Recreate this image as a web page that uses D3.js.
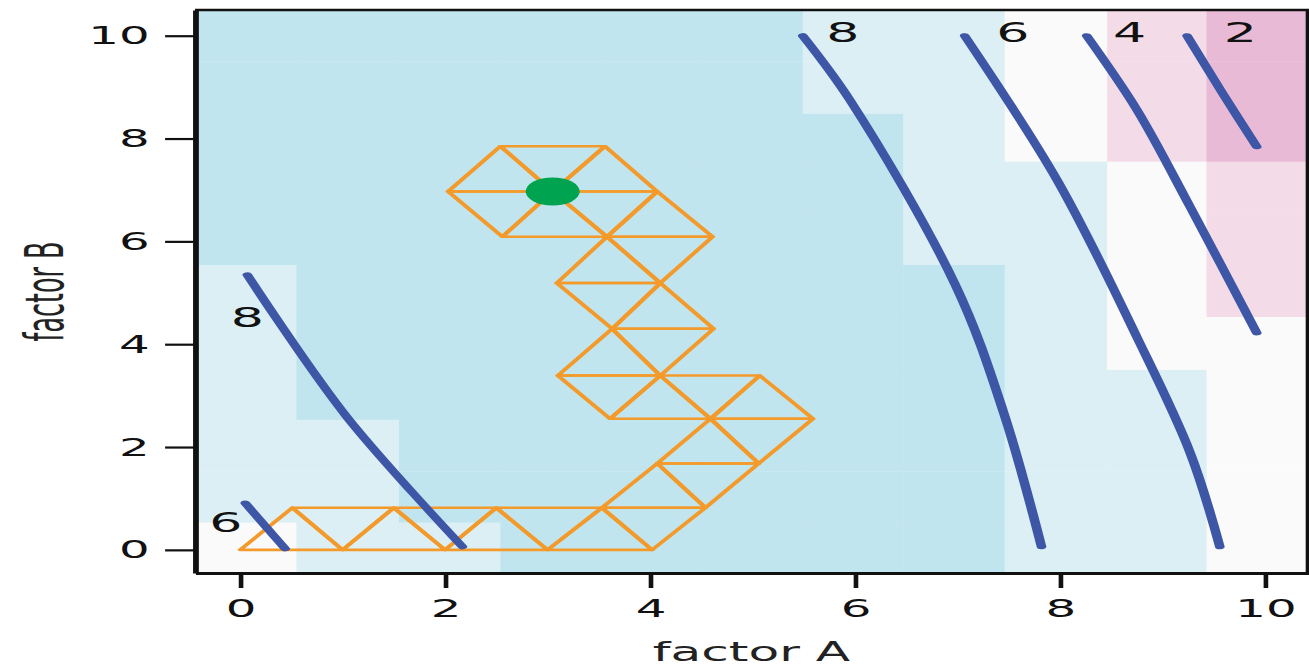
<!DOCTYPE html>
<html>
<head>
<meta charset="utf-8">
<script src="https://cdn.jsdelivr.net/npm/d3@7"></script>
<style>
  html, body { margin: 0; padding: 0; background: #fff; }
  svg { display: block; }
</style>
</head>
<body>
<div id="chart"></div>
<script>
// ---- data ----
var xTicks = [0, 2, 4, 6, 8, 10];
var yTicks = [0, 2, 4, 6, 8, 10];

// response level per cell, rows from factor B = 10 down to 0, cols factor A = 0..10
var cellRows = [
  [9, 9, 9, 9, 9, 9, 7, 7, 5, 3, 1],
  [9, 9, 9, 9, 9, 9, 7, 7, 5, 3, 1],
  [9, 9, 9, 9, 9, 9, 9, 7, 5, 3, 1],
  [9, 9, 9, 9, 9, 9, 9, 7, 7, 5, 3],
  [9, 9, 9, 9, 9, 9, 9, 7, 7, 5, 3],
  [7, 9, 9, 9, 9, 9, 9, 9, 7, 5, 3],
  [7, 9, 9, 9, 9, 9, 9, 9, 7, 5, 5],
  [7, 9, 9, 9, 9, 9, 9, 9, 7, 7, 5],
  [7, 7, 9, 9, 9, 9, 9, 9, 7, 7, 5],
  [7, 7, 9, 9, 9, 9, 9, 9, 7, 7, 5],
  [5, 7, 7, 9, 9, 9, 9, 9, 7, 7, 5]
];
// cell edges as they sit in the picture
var cellEdgesA = [-0.5, 0.55, 1.55, 2.54, 3.52, 4.51, 5.49, 6.47, 7.46, 8.46, 9.43, 10.5];
var cellEdgesB = [-0.5, 0.53, 1.53, 2.53, 3.5, 4.53, 5.54, 6.55, 7.55, 8.48, 9.5, 10.6];
var levelBreaks = [2, 4, 6, 8];
var levelColors = ['#e8bad6', '#f4dbe8', '#fafafa', '#dbeff5', '#c1e5ee'];

// contour lines
var contourLevels = ['8', '6', '4', '2', '8', '6'];
var contourLines = [
  [[5.49, 10.0], [5.95, 8.75], [6.98, 5.15], [7.45, 2.67], [7.82, 0.06]],
  [[7.07, 10.0], [7.97, 7.2], [8.75, 4.14], [9.27, 1.89], [9.56, 0.06]],
  [[8.26, 10.0], [8.75, 8.56], [9.27, 6.67], [9.92, 4.22]],
  [[9.24, 10.0], [9.58, 8.9], [9.92, 7.84]],
  [[0.07, 5.35], [1.04, 2.59], [2.17, 0.06]],
  [[0.05, 0.91], [0.44, 0.02]]
];
var contourLabelX = [5.88, 7.54, 8.68, 9.76, 0.07, -0.14];
var contourLabelY = [10.06, 10.06, 10.06, 10.06, 4.52, 0.53];

// simplex vertices and the triangles drawn between them
var simplexX = [0, 1.0, 2.0, 3.0, 4.02,
  0.51, 1.5, 2.5, 3.53, 4.54,
  4.07, 5.06,
  3.61, 4.59, 5.59,
  3.10, 4.10, 5.07,
  3.63, 4.62,
  3.09, 4.10,
  2.56, 3.58, 4.61,
  2.03, 3.05, 4.07,
  2.54, 3.56];
var simplexY = [0, 0, 0, 0, 0,
  0.82, 0.82, 0.82, 0.82, 0.82,
  1.68, 1.68,
  2.55, 2.55, 2.55,
  3.39, 3.39, 3.39,
  4.30, 4.30,
  5.19, 5.19,
  6.09, 6.09, 6.09,
  6.97, 6.97, 6.97,
  7.85, 7.85];
var simplexTriangles = [
  [0, 5, 1], [5, 1, 6], [1, 6, 2], [6, 2, 7], [2, 7, 3], [7, 3, 8], [3, 8, 4], [8, 4, 9],
  [8, 9, 10], [9, 10, 11],
  [10, 11, 13], [11, 13, 14], [13, 14, 17], [13, 16, 17], [12, 13, 16], [12, 15, 16],
  [15, 16, 18], [16, 18, 19],
  [18, 20, 21], [18, 19, 21],
  [20, 21, 23], [21, 23, 24], [23, 24, 27],
  [26, 23, 27], [26, 27, 29], [26, 29, 28], [26, 28, 25], [26, 25, 22], [26, 22, 23]
];
var optimum = [3.05, 6.97];

// ---- drawing ----
var width = 1309, height = 667;
var SX = 1.93; // the whole figure is stretched sideways

var svg = d3.select('#chart').append('svg')
  .attr('width', width)
  .attr('height', height);

var root = svg.append('g').attr('transform', 'scale(' + SX + ',1)');

var x = d3.scaleLinear().domain([-0.44, 10.42]).range([195 / SX, 1308 / SX]);
var y = d3.scaleLinear().domain([-0.45, 10.5]).range([573, 10]);
var fill = d3.scaleThreshold().domain(levelBreaks).range(levelColors);

root.append('clipPath').attr('id', 'plotclip')
  .append('rect')
  .attr('x', x(-0.44)).attr('y', y(10.5))
  .attr('width', x(10.42) - x(-0.44))
  .attr('height', y(-0.45) - y(10.5));

var plot = root.append('g').attr('clip-path', 'url(#plotclip)');

var cells = [];
cellRows.forEach(function(row, r) {
  row.forEach(function(v, c) {
    cells.push({a: c, b: 10 - r, v: v});
  });
});

plot.selectAll('rect.cell')
  .data(cells)
  .enter().append('rect')
  .attr('class', 'cell')
  .attr('x', function(d) { return x(cellEdgesA[d.a]); })
  .attr('y', function(d) { return y(cellEdgesB[d.b + 1]); })
  .attr('width', function(d) { return x(cellEdgesA[d.a + 1]) - x(cellEdgesA[d.a]) + 0.3; })
  .attr('height', function(d) { return y(cellEdgesB[d.b]) - y(cellEdgesB[d.b + 1]) + 0.3; })
  .attr('fill', function(d) { return fill(d.v); });

// simplex triangles
plot.selectAll('polygon.simplex')
  .data(simplexTriangles)
  .enter().append('polygon')
  .attr('class', 'simplex')
  .attr('points', function(t) {
    return t.map(function(i) { return x(simplexX[i]) + ',' + y(simplexY[i]); }).join(' ');
  })
  .attr('fill', 'none')
  .attr('stroke', '#f39a2a')
  .attr('stroke-width', 2.6)
  .attr('stroke-linejoin', 'round');

plot.append('circle')
  .attr('cx', x(optimum[0]))
  .attr('cy', y(optimum[1]))
  .attr('r', 14)
  .attr('fill', '#00a450');

// contours
var line = d3.line()
  .x(function(d) { return x(d[0]); })
  .y(function(d) { return y(d[1]); })
  .curve(d3.curveCatmullRom);

plot.selectAll('path.contour')
  .data(contourLines)
  .enter().append('path')
  .attr('class', 'contour')
  .attr('d', line)
  .attr('fill', 'none')
  .attr('stroke', '#3e56a6')
  .attr('stroke-width', 5)
  .attr('stroke-linecap', 'round');

root.selectAll('text.clabel')
  .data(contourLevels)
  .enter().append('text')
  .attr('class', 'clabel')
  .attr('x', function(d, i) { return x(contourLabelX[i]); })
  .attr('y', function(d, i) { return y(contourLabelY[i]); })
  .attr('dy', '0.36em')
  .attr('text-anchor', 'middle')
  .attr('font-family', 'DejaVu Sans, sans-serif')
  .attr('font-size', 27)
  .attr('fill', '#111')
  .text(function(d) { return d; });

// axes
var yAxis = root.append('g')
  .attr('transform', 'translate(' + x(-0.44) + ',0)')
  .call(d3.axisLeft(y).tickValues(yTicks).tickSize(15.5).tickPadding(8).tickSizeOuter(0));
yAxis.attr('font-family', 'DejaVu Sans, sans-serif').attr('font-size', 25);
yAxis.select('.domain').attr('stroke', '#111').attr('stroke-width', 3);
yAxis.selectAll('.tick line').attr('stroke', '#111').attr('stroke-width', 2.2);
yAxis.selectAll('.tick text').attr('fill', '#111');

var xAxis = root.append('g')
  .attr('transform', 'translate(0,' + y(-0.45) + ')')
  .call(d3.axisBottom(x).tickValues(xTicks).tickSize(15).tickPadding(11).tickSizeOuter(0));
xAxis.attr('font-family', 'DejaVu Sans, sans-serif').attr('font-size', 25);
xAxis.select('.domain').attr('stroke', '#111').attr('stroke-width', 3);
xAxis.selectAll('.tick line').attr('stroke', '#111').attr('stroke-width', 2.4);
xAxis.selectAll('.tick text').attr('fill', '#111');

// top and right frame
root.append('path')
  .attr('d', 'M' + x(-0.44) + ',' + y(10.5) + 'H' + x(10.42) + 'V' + y(-0.45))
  .attr('fill', 'none')
  .attr('stroke', '#111')
  .attr('stroke-width', 2.4);

// axis titles
root.append('text')
  .attr('x', (x(-0.44) + x(10.42)) / 2)
  .attr('y', 661)
  .attr('text-anchor', 'middle')
  .attr('font-family', 'DejaVu Sans, sans-serif')
  .attr('font-size', 26)
  .attr('fill', '#222')
  .text('factor A');

root.append('text')
  .attr('transform', 'translate(' + (63 / SX) + ',' + ((y(-0.45) + y(10.5)) / 2) + ') rotate(-90)')
  .attr('text-anchor', 'middle')
  .attr('font-family', 'DejaVu Sans, sans-serif')
  .attr('font-size', 28)
  .attr('textLength', 100)
  .attr('lengthAdjust', 'spacingAndGlyphs')
  .attr('fill', '#222')
  .text('factor B');
</script>
</body>
</html>
